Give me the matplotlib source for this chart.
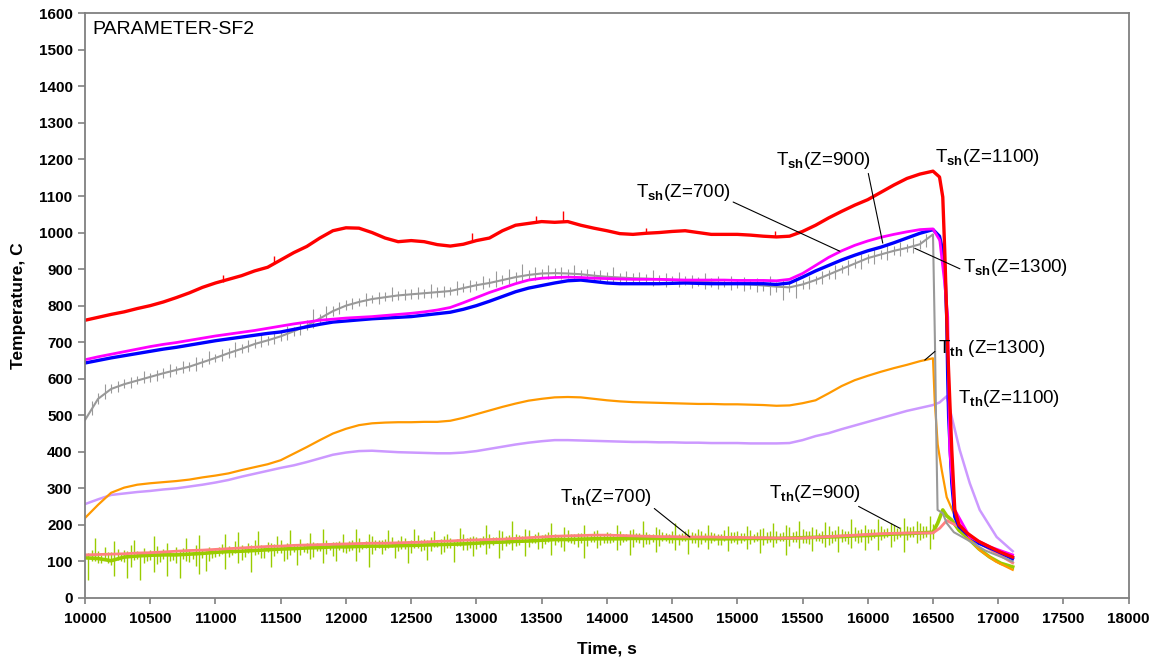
import numpy as np
import matplotlib
matplotlib.use('Agg')
from matplotlib import pyplot as plt

plt.rcParams['font.family'] = ['Liberation Sans', 'DejaVu Sans']
plt.rcParams['mathtext.fontset'] = 'custom'
plt.rcParams['mathtext.rm'] = 'Liberation Sans'
plt.rcParams['mathtext.bf'] = 'Liberation Sans:bold'

# main part of every record, one reading per 100 s from 10000 to 16500
time_body = list(range(10000, 16501, 100))

tsh_1100 = [760, 768, 776, 783, 792, 800, 810, 822, 835, 850,
            862, 872, 882, 895, 905, 925, 945, 962, 985, 1005,
            1013, 1012, 1000, 985, 975, 978, 975, 967, 963, 968,
            978, 985, 1005, 1020, 1025, 1030, 1028, 1030, 1020, 1012,
            1005, 997, 995, 998, 1000, 1003, 1005, 1000, 995, 995,
            995, 993, 990, 988, 990, 1003, 1020, 1040, 1058, 1075,
            1090, 1110, 1130, 1148, 1160, 1168]
tsh_1100_tail_t = [16550, 16575, 16590, 16613, 16644, 16667, 16700, 16760, 16850, 16935, 17020, 17110]
tsh_1100_tail_v = [1152, 1097, 950, 680, 405, 241, 200, 178, 155, 140, 125, 112]
tsh_1100_spk_t = [11060, 11450, 12970, 13460, 13665, 14300, 15290]
tsh_1100_spk_lo = [866, 915, 975, 1028, 1030, 998, 988]
tsh_1100_spk_hi = [885, 935, 1000, 1045, 1058, 1012, 1004]

tsh_900 = [643, 650, 657, 663, 669, 675, 681, 686, 692, 698,
           704, 709, 714, 719, 724, 728, 735, 742, 749, 755,
           758, 761, 764, 766, 768, 770, 774, 778, 782, 790,
           800, 812, 825, 838, 848, 855, 862, 868, 870, 866,
           862, 860, 860, 860, 860, 861, 862, 861, 860, 860,
           860, 860, 860, 858, 862, 878, 895, 910, 925, 938,
           950, 960, 972, 985, 998, 1008]
tsh_900_tail_t = [16550, 16575, 16590, 16605, 16613, 16620, 16644, 16667, 16700, 16760, 16850, 16980, 17110]
tsh_900_tail_v = [990, 950, 905, 769, 600, 495, 314, 222, 195, 175, 150, 130, 108]

tsh_700 = [652, 660, 667, 674, 681, 688, 694, 699, 705, 711,
           717, 722, 727, 732, 738, 744, 750, 755, 760, 763,
           766, 768, 770, 773, 776, 779, 783, 788, 795, 808,
           822, 836, 848, 860, 870, 875, 877, 878, 877, 875,
           874, 873, 872, 872, 872, 871, 870, 870, 870, 870,
           869, 869, 869, 868, 872, 888, 910, 932, 950, 965,
           977, 987, 995, 1002, 1008, 1010]
tsh_700_tail_t = [16552, 16590, 16613, 16628, 16667, 16782, 16935, 17110]
tsh_700_tail_v = [979, 861, 769, 405, 241, 167, 140, 118]

tsh_1300 = [487, 545, 572, 585, 595, 605, 615, 624, 633, 645,
            657, 670, 682, 695, 705, 716, 730, 745, 765, 785,
            800, 810, 818, 823, 828, 831, 834, 837, 840, 848,
            856, 862, 870, 878, 884, 888, 889, 888, 886, 882,
            879, 877, 875, 874, 872, 870, 868, 866, 864, 862,
            860, 858, 855, 852, 850, 858, 870, 885, 900, 915,
            930, 940, 950, 958, 968, 995]
tsh_1300_tail_t = [16515, 16525, 16535, 16575, 16605, 16660, 16760, 16900, 17110]
tsh_1300_tail_v = [700, 450, 241, 232, 205, 180, 160, 130, 100]
# noise of the gray record, spikes at the half-way times and at the readings
tsh_1300_spk_t = list(range(10050, 16500, 100))
tsh_1300_spk_hi = [540, 585, 595, 605, 622, 625, 640, 648, 660, 675,
                   680, 700, 705, 725, 728, 745, 755, 790, 800, 810,
                   822, 835, 838, 850, 845, 852, 860, 855, 868, 870,
                   880, 895, 900, 915, 905, 912, 905, 910, 900, 898,
                   905, 895, 892, 898, 890, 892, 885, 888, 880, 882,
                   878, 876, 880, 870, 875, 880, 895, 912, 925, 940,
                   955, 965, 975, 985, 995]
tsh_1300_spk_lo = [500, 545, 565, 575, 588, 595, 605, 615, 622, 640,
                   648, 660, 672, 688, 695, 705, 720, 740, 758, 778,
                   790, 800, 805, 812, 815, 818, 820, 825, 830, 838,
                   845, 850, 858, 868, 870, 872, 872, 870, 868, 862,
                   862, 858, 858, 855, 852, 850, 848, 845, 845, 842,
                   840, 838, 830, 815, 820, 845, 858, 872, 885, 900,
                   915, 925, 935, 945, 960]
tsh_1300_spk2_t = list(range(10100, 16500, 100))
tsh_1300_spk2_hi = [560, 585, 598, 608, 616, 628, 636, 645, 658, 668,
                    684, 694, 708, 716, 730, 742, 760, 778, 798, 815,
                    822, 830, 836, 840, 845, 846, 850, 852, 862, 868,
                    876, 884, 892, 898, 900, 902, 900, 898, 895, 892,
                    890, 888, 886, 884, 882, 880, 878, 876, 874, 872,
                    870, 868, 866, 862, 870, 882, 898, 912, 928, 942,
                    952, 962, 970, 980]
tsh_1300_spk2_lo = [532, 560, 575, 585, 592, 602, 612, 620, 632, 645,
                    658, 670, 684, 692, 704, 718, 732, 752, 772, 788,
                    798, 806, 812, 815, 818, 822, 825, 828, 836, 844,
                    850, 858, 866, 872, 876, 876, 876, 874, 870, 866,
                    865, 862, 862, 860, 858, 856, 854, 852, 850, 848,
                    846, 840, 838, 836, 845, 858, 872, 888, 902, 918,
                    928, 938, 946, 955]

tth_1300 = [219, 255, 288, 302, 310, 314, 317, 320, 324, 330,
            335, 341, 350, 358, 366, 377, 395, 413, 432, 450,
            463, 473, 478, 480, 481, 481, 482, 482, 485, 493,
            503, 513, 523, 532, 540, 545, 549, 550, 549, 545,
            541, 538, 536, 535, 534, 533, 532, 531, 531, 530,
            530, 529, 528, 526, 527, 533, 541, 560, 580, 596,
            608, 619, 629, 638, 648, 656]
tth_1300_tail_t = [16513, 16536, 16567, 16605, 16682, 16760, 16858, 16980, 17111]
tth_1300_tail_v = [541, 420, 350, 276, 213, 170, 131, 100, 77]

tth_1100 = [257, 270, 282, 286, 290, 293, 297, 300, 305, 310,
            316, 323, 332, 340, 348, 356, 363, 372, 382, 392,
            398, 402, 403, 401, 399, 398, 397, 396, 396, 398,
            402, 408, 414, 420, 425, 429, 432, 432, 431, 430,
            429, 428, 427, 427, 426, 426, 425, 425, 424, 424,
            424, 423, 423, 423, 424, 432, 443, 451, 462, 472,
            482, 492, 502, 512, 520, 528]
tth_1100_tail_t = [16550, 16605, 16644, 16705, 16782, 16858, 16988, 17111]
tth_1100_tail_v = [535, 552, 495, 405, 314, 241, 167, 128]

tth_900 = [118, 119, 120, 121, 123, 124, 126, 128, 130, 131,
           133, 135, 137, 139, 141, 142, 144, 145, 146, 147,
           148, 149, 150, 150, 151, 152, 153, 155, 156, 158,
           159, 160, 161, 163, 165, 167, 169, 170, 171, 172,
           172, 171, 170, 169, 168, 168, 167, 167, 167, 166,
           166, 165, 165, 164, 164, 164, 166, 168, 170, 172,
           174, 176, 177, 178, 178, 178]
tth_900_tail_t = [16552, 16605, 16705, 16858, 17111]
tth_900_tail_v = [191, 212, 194, 150, 96]

tth_700 = [110, 108, 102, 112, 115, 117, 118, 118, 120, 122,
           125, 127, 128, 130, 132, 134, 135, 137, 138, 140,
           140, 141, 142, 142, 143, 144, 145, 146, 147, 148,
           150, 152, 153, 155, 156, 158, 160, 160, 161, 162,
           162, 162, 163, 163, 163, 163, 163, 163, 162, 162,
           162, 163, 163, 163, 164, 165, 166, 167, 168, 170,
           171, 173, 175, 176, 178, 180]
tth_700_tail_t = [16536, 16575, 16605, 16644, 16700, 16759, 16850, 16935, 17020, 17111]
tth_700_tail_v = [205, 241, 225, 213, 185, 167, 135, 112, 95, 85]
# noisy thermocouple: large spikes and small ones, each every 50 s
tth_700_spk_t = list(range(10025, 16500, 50))
tth_700_spk_hi = [122, 165, 118, 125, 155, 120, 128, 160, 119, 124, 170, 126, 150, 122, 130, 165, 125, 172, 128, 135,
                  140, 175, 135, 180, 138, 145, 182, 140, 150, 170, 142, 185, 148, 145, 178, 150, 188, 146, 152, 175,
                  155, 190, 150, 175, 158, 160, 185, 152, 170, 156, 190, 160, 158, 182, 162, 176, 160, 192, 165, 170,
                  165, 200, 168, 185, 170, 210, 172, 190, 168, 180, 175, 205, 170, 195, 176, 178, 200, 172, 185, 176,
                  178, 200, 175, 185, 178, 210, 176, 195, 180, 176, 205, 178, 190, 178, 182, 200, 178, 176, 198, 180,
                  178, 198, 176, 190, 180, 205, 178, 200, 180, 212, 182, 195, 178, 208, 184, 196, 182, 215, 186, 200,
                  188, 215, 190, 205, 192, 220, 194, 210, 196, 225]
tth_700_spk_lo = [50, 100, 95, 96, 60, 100, 55, 105, 50, 102, 70, 98, 60, 104, 55, 100, 108, 65, 75, 110,
                  115, 80, 118, 95, 112, 70, 120, 110, 85, 122, 100, 118, 90, 126, 108, 128, 95, 130, 100, 125,
                  128, 100, 135, 85, 132, 120, 138, 110, 134, 95, 136, 128, 105, 140, 120, 138, 98, 142, 130, 115,
                  140, 120, 145, 110, 142, 130, 146, 115, 150, 135, 148, 118, 152, 128, 150, 140, 110, 154, 138, 150,
                  150, 130, 152, 118, 154, 140, 148, 125, 155, 150, 132, 155, 120, 150, 148, 135, 155, 145, 128, 152,
                  150, 135, 152, 122, 150, 140, 155, 118, 152, 138, 150, 128, 155, 140, 150, 125, 155, 136, 150, 130,
                  160, 130, 165, 140, 162, 125, 168, 150, 165, 135]
tth_700_spk2_t = list(range(10050, 16501, 50))
tth_700_spk2_hi = [130, 128, 140, 126, 135, 132, 145, 128, 138, 130, 142, 134, 128, 140, 136, 131, 145, 135, 139, 133,
                   148, 142, 155, 146, 150, 160, 144, 152, 148, 158, 150, 146, 162, 150, 154, 148, 160, 152, 156, 150,
                   158, 164, 156, 170, 160, 162, 168, 158, 165, 160, 172, 162, 166, 160, 170, 164, 162, 175, 166, 168,
                   170, 176, 168, 182, 172, 175, 170, 185, 174, 172, 180, 176, 172, 186, 175, 178, 174, 182, 176, 180,
                   176, 182, 175, 188, 178, 180, 176, 190, 178, 184, 176, 182, 180, 188, 178, 180, 176, 186, 180, 182,
                   178, 186, 180, 192, 182, 184, 180, 194, 182, 188, 184, 190, 182, 196, 186, 188, 184, 194, 188, 190,
                   190, 196, 192, 200, 194, 198, 196, 204, 198, 202]
tth_700_spk2_lo = [100, 95, 108, 90, 104, 98, 85, 106, 96, 103, 92, 108, 100, 95, 107, 99, 88, 110, 101, 112,
                   120, 112, 124, 105, 122, 118, 110, 125, 116, 122, 108, 126, 118, 124, 112, 128, 120, 115, 130, 122,
                   132, 125, 138, 120, 136, 130, 140, 128, 134, 122, 138, 132, 128, 140, 126, 136, 142, 130, 138, 134,
                   145, 138, 150, 132, 148, 142, 152, 140, 150, 136, 152, 146, 140, 154, 148, 150, 142, 152, 146, 150,
                   152, 146, 155, 140, 150, 148, 154, 142, 155, 150, 146, 155, 150, 140, 152, 150, 146, 155, 150, 148,
                   155, 148, 156, 144, 152, 150, 156, 142, 154, 150, 148, 156, 150, 146, 155, 152, 148, 156, 152, 150,
                   165, 158, 166, 155, 168, 160, 166, 158, 168, 162]

# label text, text position, leader target, leader start on the text box
labels = [r'T$_{\mathbf{sh}}$(Z=1100)', r'T$_{\mathbf{sh}}$(Z=900)', r'T$_{\mathbf{sh}}$(Z=700)',
          r'T$_{\mathbf{sh}}$(Z=1300)', r'T$_{\mathbf{th}}$ (Z=1300)', r'T$_{\mathbf{th}}$(Z=1100)',
          r'T$_{\mathbf{th}}$(Z=700)', r'T$_{\mathbf{th}}$(Z=900)']
label_pos = [(16513, 1206), (15295, 1198), (14222, 1110), (16728, 903),
             (16536, 684), (16690, 547), (13640, 274), (15241, 287)]
leader_to = [None, (16115, 971), (15785, 949), (16360, 957),
             (16437, 651), None, (14636, 167), (16245, 191)]
leader_from = [None, (0.97, 0.05), (1.0, 0.1), (0.0, 0.4),
               (0.0, 0.45), None, (1.0, 0.1), (0.88, 0.1)]


def plot_record(ax, body, tail_t, tail_v, color, lw):
    ax.plot(time_body + tail_t, body + tail_v, color=color, linewidth=lw, solid_joinstyle='round')


fig, ax = plt.subplots(figsize=(11.6, 6.64), dpi=100)
fig.subplots_adjust(left=0.0733, right=0.973, bottom=0.0994, top=0.980)

green = '#99CC00'
ax.vlines(tth_700_spk_t, tth_700_spk_lo, tth_700_spk_hi, colors=green, linewidth=1.0)
ax.vlines(tth_700_spk2_t, tth_700_spk2_lo, tth_700_spk2_hi, colors=green, linewidth=1.0)
plot_record(ax, tth_700, tth_700_tail_t, tth_700_tail_v, green, 2.6)
plot_record(ax, tth_900, tth_900_tail_t, tth_900_tail_v, '#FF8080', 2.0)
plot_record(ax, tth_1100, tth_1100_tail_t, tth_1100_tail_v, '#CC99FF', 1.8)
plot_record(ax, tth_1300, tth_1300_tail_t, tth_1300_tail_v, '#FF9900', 1.6)
ax.vlines(tsh_1300_spk_t, tsh_1300_spk_lo, tsh_1300_spk_hi, colors='#999999', linewidth=0.8)
ax.vlines(tsh_1300_spk2_t, tsh_1300_spk2_lo, tsh_1300_spk2_hi, colors='#999999', linewidth=0.8)
plot_record(ax, tsh_1300, tsh_1300_tail_t, tsh_1300_tail_v, '#999999', 1.5)
plot_record(ax, tsh_900, tsh_900_tail_t, tsh_900_tail_v, '#0000FF', 2.4)
plot_record(ax, tsh_700, tsh_700_tail_t, tsh_700_tail_v, '#FF00FF', 2.0)
ax.vlines(tsh_1100_spk_t, tsh_1100_spk_lo, tsh_1100_spk_hi, colors='#FF0000', linewidth=1.0)
plot_record(ax, tsh_1100, tsh_1100_tail_t, tsh_1100_tail_v, '#FF0000', 2.4)

for i in range(len(labels)):
    if leader_to[i] is None:
        ax.text(label_pos[i][0], label_pos[i][1], labels[i], fontsize=13.5, ha='left', va='center')
    else:
        ax.annotate(labels[i], xy=leader_to[i], xytext=label_pos[i], fontsize=13.5,
                    ha='left', va='center',
                    arrowprops=dict(arrowstyle='-', color='black', linewidth=0.8,
                                    relpos=leader_from[i], shrinkA=0, shrinkB=0))

ax.text(0.0067, 0.973, 'PARAMETER-SF2', transform=ax.transAxes, fontsize=14, ha='left', va='center')

ax.set_xlim(10000, 18000)
ax.set_ylim(0, 1600)
ax.set_xticks(range(10000, 18001, 500))
ax.set_yticks(range(0, 1601, 100))
for spine in ax.spines.values():
    spine.set_color('#808080')
    spine.set_linewidth(1.3)
ax.tick_params(axis='both', direction='out', color='#808080', width=1.2, labelsize=11)
ax.tick_params(axis='x', length=4, pad=6)
ax.tick_params(axis='y', length=5, pad=4)
for lab in ax.get_xticklabels() + ax.get_yticklabels():
    lab.set_fontweight('bold')

ax.set_xlabel('Time, s', fontsize=12.5, fontweight='bold')
ax.set_ylabel('Temperature, C', fontsize=12.5, fontweight='bold')
ax.xaxis.set_label_coords(0.5, -0.075)
ax.yaxis.set_label_coords(-0.057, 0.5)

plt.savefig('out.png', dpi=100)
